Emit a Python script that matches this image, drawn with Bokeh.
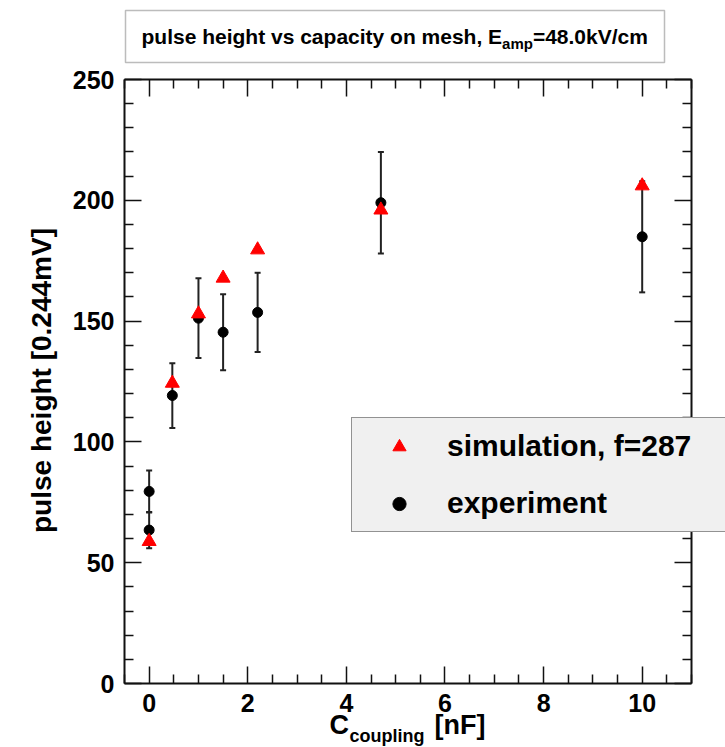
from bokeh.plotting import figure
from bokeh.models import (ColumnDataSource, Whisker, TeeHead, Label, BoxAnnotation,
                          Legend, LegendItem, FixedTicker, LinearAxis, Range1d)
from bokeh.embed import file_html
from bokeh.resources import INLINE
import math

# ---- data ----
c_exp = [0.0, 0.0, 0.47, 1.0, 1.5, 2.2, 4.7, 10.0]
ph_exp = [79.5, 63.5, 119.2, 151.2, 145.4, 153.6, 199.0, 184.9]
err_exp = [8.7, 7.5, 13.4, 16.5, 15.7, 16.4, 21.0, 23.0]
c_sim = [0.0, 0.47, 1.0, 1.5, 2.2, 4.7, 10.0]
ph_sim = [58.8, 124.3, 153.0, 167.8, 179.5, 196.0, 206.0]
x_ticks = [0, 2, 4, 6, 8, 10]
x_minor = [-0.5, 0.5, 1, 1.5, 2.5, 3, 3.5, 4.5, 5, 5.5, 6.5, 7, 7.5, 8.5, 9, 9.5, 10.5, 11]
y_ticks = [0, 50, 100, 150, 200, 250]
y_minor = [v for v in range(0, 251, 10) if v % 50 != 0]

# axis extents
X0, X1 = -0.5, 11.0
Y0, Y1 = 0.0, 250.0

# ---- layout (pixels) ----
W, H = 725, 747
FL, FR, FT, FB = 124, 691, 79, 683   # visible plot box

kx = (FR - FL) / (X1 - X0)
ky = (FB - FT) / (Y1 - Y0)
x_range = Range1d(X0 - FL / kx, X1 + (W - FR) / kx)
y_range = Range1d(Y0 - (H - FB) / ky, Y1 + FT / ky)

FONT = "Liberation Sans"
AX = "#111111"

p = figure(width=W, height=H, x_range=x_range, y_range=y_range,
           x_axis_type=None, y_axis_type=None,
           output_backend="svg", toolbar_location=None,
           min_border_left=0, min_border_right=0, min_border_top=0, min_border_bottom=0)
p.xgrid.visible = False
p.ygrid.visible = False
p.outline_line_color = None
p.background_fill_color = "white"
p.border_fill_color = "white"


def make_axis(ticks, minor, labels, loc, bounds, standoff):
    ax = LinearAxis(ticker=FixedTicker(ticks=ticks, minor_ticks=minor),
                    fixed_location=loc, bounds=bounds)
    ax.axis_line_color = AX
    ax.axis_line_width = 2
    ax.major_tick_line_color = AX
    ax.major_tick_line_width = 1.5
    ax.minor_tick_line_color = AX
    ax.minor_tick_line_width = 1.5
    ax.major_tick_in = 17
    ax.major_tick_out = 0
    ax.minor_tick_in = 9
    ax.minor_tick_out = 0
    ax.major_label_text_font = FONT
    ax.major_label_text_font_style = "bold"
    ax.major_label_text_font_size = "25px"
    ax.major_label_text_color = "black"
    ax.major_label_standoff = standoff
    if not labels:
        ax.major_label_overrides = {t: "" for t in ticks}
    return ax


p.add_layout(make_axis(x_ticks, x_minor, True, Y0, (X0, X1), 10), "below")
p.add_layout(make_axis(x_ticks, x_minor, False, Y1, (X0, X1), 10), "above")
p.add_layout(make_axis(y_ticks, y_minor, True, X0, (Y0, Y1), 10), "left")
p.add_layout(make_axis(y_ticks, y_minor, False, X1, (Y0, Y1), 10), "right")

src = ColumnDataSource(dict(
    x=c_exp, y=ph_exp,
    upper=[y + e for y, e in zip(ph_exp, err_exp)],
    lower=[y - e for y, e in zip(ph_exp, err_exp)],
))
sim = ColumnDataSource(dict(x=c_sim, y=ph_sim))

EB = "#222222"
wh = Whisker(source=src, base="x", upper="upper", lower="lower",
             line_color=EB, line_width=2, level="underlay",
             upper_head=TeeHead(size=6, line_color=EB, line_width=2),
             lower_head=TeeHead(size=6, line_color=EB, line_width=2))
p.add_layout(wh)

r_exp = p.scatter("x", "y", source=src, marker="circle", size=10,
                  fill_color="black", line_color="black")
r_sim = p.scatter("x", "y", source=sim, marker="triangle", size=14,
                  fill_color="red", line_color="red")

# legend box: left 351, top 419, bottom 532, reaching the right edge
legend = Legend(items=[LegendItem(label="simulation, f=287", renderers=[r_sim]),
                       LegendItem(label="experiment", renderers=[r_exp])],
                location=(351, H - 532), orientation="vertical",
                background_fill_color="#f0f0f0", background_fill_alpha=1.0,
                border_line_color="#333333", border_line_width=1.5,
                padding=8, spacing=17, margin=0,
                glyph_width=78, glyph_height=33, label_height=40, label_width=275,
                label_standoff=9,
                label_text_font=FONT, label_text_font_style="bold",
                label_text_font_size="30px", label_text_color="black")
p.add_layout(legend)

# title box
box = BoxAnnotation(left=125, right=664, top=H - 10, bottom=H - 62,
                    left_units="screen", right_units="screen",
                    top_units="screen", bottom_units="screen",
                    fill_color="white", fill_alpha=1.0,
                    line_color="#222222", line_width=1.5)
p.add_layout(box)


def lab(x, y, text, size, align="left", baseline="middle", angle=0.0):
    return Label(x=x, y=H - y, x_units="screen", y_units="screen", text=text,
                 text_font=FONT, text_font_style="bold", text_font_size=size,
                 text_align=align, text_baseline=baseline, angle=angle,
                 text_color="black")


p.add_layout(lab(501.6, 36, "pulse height vs capacity on mesh, E", "21px", align="right"))
p.add_layout(lab(501.6, 43, "amp", "15px"))
p.add_layout(lab(532.4, 36, "=48.0kV/cm", "21px"))

# axis titles
p.add_layout(lab(41, 380, "pulse height [0.244mV]", "28px", align="center", angle=math.pi / 2))
p.add_layout(lab(329, 724, "C", "27px"))
p.add_layout(lab(349, 735, "coupling", "18px"))
p.add_layout(lab(434, 724, "[nF]", "27px"))

open("out.html", "w").write(file_html(p, INLINE))
